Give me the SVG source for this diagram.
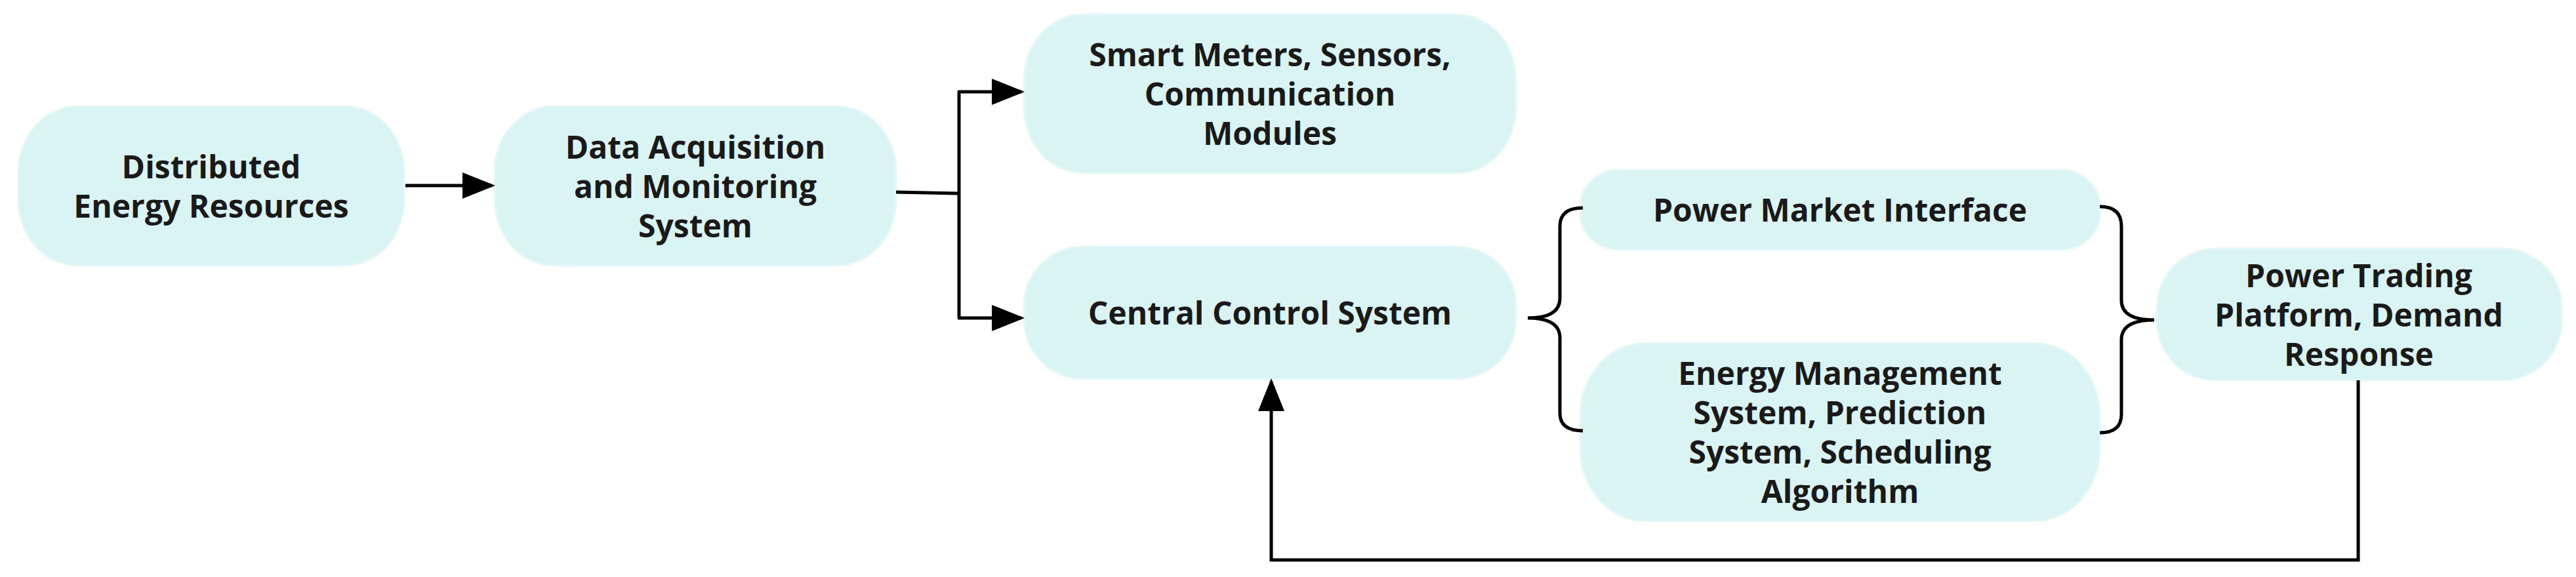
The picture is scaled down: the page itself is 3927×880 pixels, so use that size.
<svg xmlns="http://www.w3.org/2000/svg" width="3927" height="880" viewBox="0 0 3927 880">
<style>
.box{fill:#daf4f4;stroke:#e6f7f7;stroke-width:3}
.t{font-family:"Open Sans","Noto Sans",sans-serif;font-weight:bold;font-size:48px;fill:#1a1a1a;text-anchor:middle}
.c{fill:none;stroke:#000;stroke-width:5}
</style>
<defs>
<marker id="a" markerWidth="10" markerHeight="8" refX="9" refY="4" orient="auto" markerUnits="strokeWidth"><path d="M0,0 L10,4 L0,8 Z" fill="#000"/></marker>
</defs>
<rect width="3927" height="880" fill="#fff"/>
<g id="n1"><rect class="box" x="28" y="162" width="588" height="243" rx="90" ry="100"/>
<text class="t" x="322" y="272">Distributed</text><text class="t" x="322" y="332">Energy Resources</text></g>
<g id="n2"><rect class="box" x="754" y="162" width="612" height="243" rx="90" ry="100"/>
<text class="t" x="1060" y="242">Data Acquisition</text><text class="t" x="1060" y="302">and Monitoring</text><text class="t" x="1060" y="362">System</text></g>
<g id="n3"><rect class="box" x="1561" y="22" width="750" height="242" rx="90" ry="100"/>
<text class="t" x="1936" y="101">Smart Meters, Sensors,</text><text class="t" x="1936" y="161">Communication</text><text class="t" x="1936" y="221">Modules</text></g>
<g id="n4"><rect class="box" x="1561" y="376" width="750" height="202" rx="90" ry="90"/>
<text class="t" x="1936" y="495">Central Control System</text></g>
<g id="n5"><rect class="box" x="2409" y="259" width="792" height="122" rx="60" ry="55"/>
<text class="t" x="2805" y="338">Power Market Interface</text></g>
<g id="n6"><rect class="box" x="2409" y="523" width="792" height="272" rx="100" ry="110"/>
<text class="t" x="2805" y="587">Energy Management</text><text class="t" x="2805" y="647">System, Prediction</text><text class="t" x="2805" y="707">System, Scheduling</text><text class="t" x="2805" y="767">Algorithm</text></g>
<g id="n7"><rect class="box" x="3288" y="379" width="617" height="201" rx="90" ry="90"/>
<text class="t" x="3596" y="438">Power Trading</text><text class="t" x="3596" y="498">Platform, Demand</text><text class="t" x="3596" y="558">Response</text></g>
<g id="connectors">
<line class="c" x1="618" y1="283" x2="750" y2="283" marker-end="url(#a)"/>
<polyline class="c" points="1366,293 1462,295"/>
<polyline class="c" points="1462,140 1462,485"/>
<line class="c" x1="1460" y1="140" x2="1557" y2="140" marker-end="url(#a)"/>
<line class="c" x1="1460" y1="485" x2="1557" y2="485" marker-end="url(#a)"/>
<path class="c" d="M2413,317 Q2378,317 2378,345 L2378,455 Q2378,485 2329,485 Q2378,485 2378,515 L2378,630 Q2378,657 2413,657"/>
<path class="c" d="M3201,315 Q3234,315 3234,345 L3234,458 Q3234,488 3284,488 Q3234,488 3234,518 L3234,632 Q3234,660 3201,660"/>
<polyline class="c" points="3595,580 3595,854 1938,854 1938,582" marker-end="url(#a)"/>
</g>
</svg>
